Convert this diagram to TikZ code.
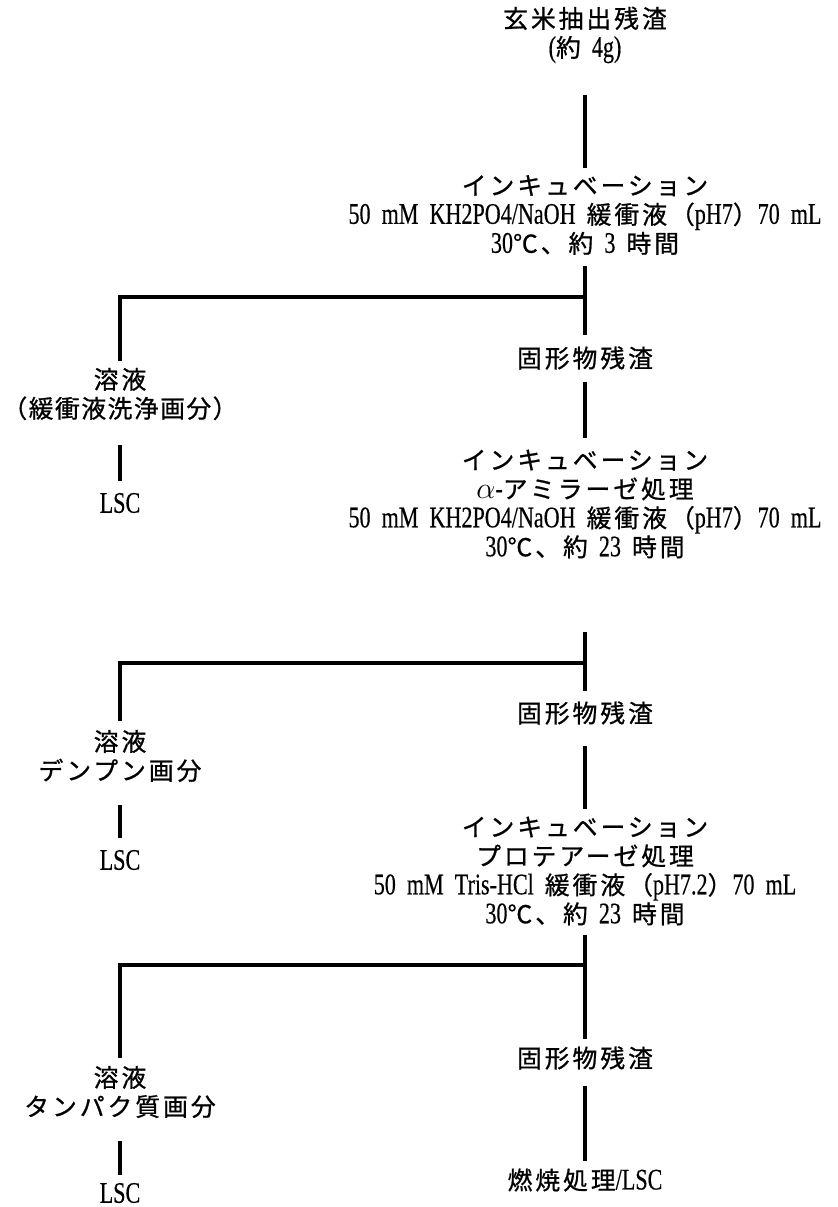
\documentclass[tikz,border=0pt]{standalone}
\usepackage{fontspec}
\setmainfont[FakeStretch=0.74, WordSpace=2, FakeBold=0.4]{Liberation Serif}
\newfontfamily\jp[Scale=0.83, LetterSpace=12, FakeBold=0.8]{Noto Sans CJK JP}
\usetikzlibrary{positioning}

\tikzstyle{stage} = [align=center, inner sep=0pt, font=\fontsize{17}{16.5}\selectfont]
\tikzstyle{flow} = [line width=1.8pt]

\begin{document}
\begin{tikzpicture}[x=0.02cm, y=-0.02cm]
    \useasboundingbox (0,0) rectangle (838,1207);

    % Main column
    \node (residue) [stage] at (585,35) {{\jp 玄米抽出残渣}\\({\jp 約} 4g)};
    \node (inc1) [stage] at (585,215) {{\jp インキュベーション}\\50 mM KH2PO4/NaOH {\jp 緩衝液（}pH7{\jp ）}70 mL\\30{\jp ℃、約} 3 {\jp 時間}};
    \node (solid1) [stage] at (585,358) {\jp 固形物残渣};
    \node (inc2) [stage] at (585,504) {{\jp インキュベーション}\\$\alpha$-{\jp アミラーゼ処理}\\50 mM KH2PO4/NaOH {\jp 緩衝液（}pH7{\jp ）}70 mL\\30{\jp ℃、約} 23 {\jp 時間}};
    \node (solid2) [stage] at (585,713) {\jp 固形物残渣};
    \node (inc3) [stage] at (585,871) {{\jp インキュベーション}\\{\jp プロテアーゼ処理}\\50 mM Tris-HCl {\jp 緩衝液（}pH7.2{\jp ）}70 mL\\30{\jp ℃、約} 23 {\jp 時間}};
    \node (solid3) [stage] at (585,1058) {\jp 固形物残渣};
    \node (burn) [stage] at (585,1180) {{\jp 燃焼処理}/LSC};

    % Fractions split off to the left
    % (tighter spacing so the bracketed line stays off the edge)
    \node (wash) [stage] at (120,394) {{\jp 溶液}\\{\jp\addfontfeature{LetterSpace=6}\hspace*{-.4em}（緩衝液洗浄画分）\hspace*{-.4em}}};
    \node (lsc1) [stage] at (120,503) {LSC};
    \node (starch) [stage] at (120,756) {{\jp 溶液}\\{\jp デンプン画分}};
    \node (lsc2) [stage] at (120,860) {LSC};
    \node (protein) [stage] at (120,1092) {{\jp 溶液}\\{\jp タンパク質画分}};
    \node (lsc3) [stage] at (120,1193) {LSC};

    % Branch points
    \coordinate (split1) at (585,297);
    \coordinate (split2) at (585,663);
    \coordinate (split3) at (585,965);

    % ==== Lines
    \draw [flow, shorten <=0.62cm, shorten >=0.14cm] (residue) -- (inc1);
    \draw [flow, shorten <=0.22cm] (inc1) -- (split1);
    \draw [flow, shorten >=0.22cm] (split1) -- (solid1);
    \draw [flow, shorten >=0.14cm] (split1) -| (wash);
    \draw [flow, shorten <=0.5cm, shorten >=0.24cm] (wash) -- (lsc1);

    \draw [flow, shorten <=0.24cm, shorten >=0.22cm] (solid1) -- (inc2);
    \draw [flow, shorten <=1.46cm] (inc2) -- (split2);
    \draw [flow, shorten >=0.2cm] (split2) -- (solid2);
    \draw [flow, shorten >=0.18cm] (split2) -| (starch);
    \draw [flow, shorten <=0.46cm, shorten >=0.24cm] (starch) -- (lsc2);

    \draw [flow, shorten <=0.42cm, shorten >=0.14cm] (solid2) -- (inc3);
    \draw [flow, shorten <=0.18cm] (inc3) -- (split3);
    \draw [flow, shorten >=0.14cm] (split3) -- (solid3);
    \draw [flow, shorten >=0.16cm] (split3) -| (protein);
    \draw [flow, shorten <=0.46cm, shorten >=0.16cm] (protein) -- (lsc3);

    \draw [flow, shorten <=0.32cm, shorten >=0.14cm] (solid3) -- (burn);
\end{tikzpicture}
\end{document}
